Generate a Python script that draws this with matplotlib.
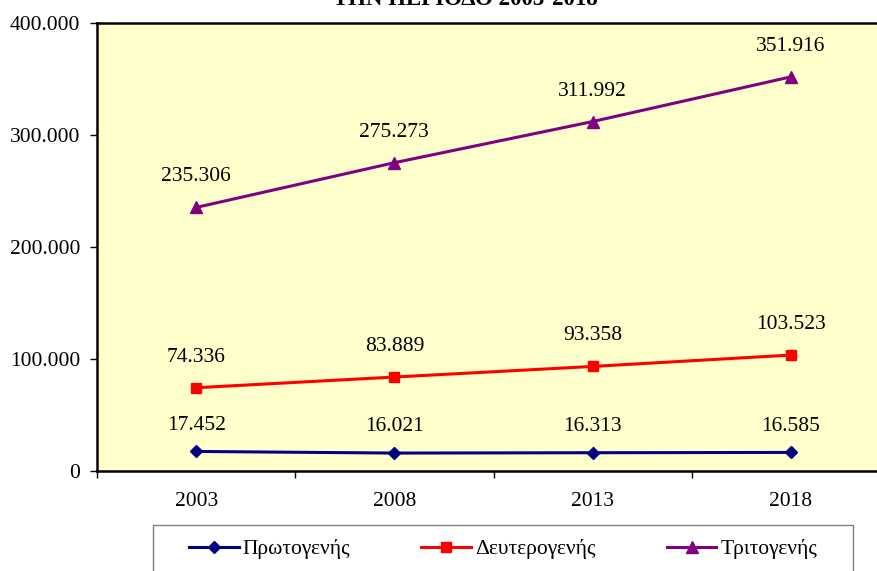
import matplotlib
matplotlib.use("Agg")
import matplotlib.pyplot as plt
from matplotlib.patches import Rectangle
from matplotlib.ticker import FuncFormatter, FixedLocator

years = ["2003", "2008", "2013", "2018"]
series_names = ["Πρωτογενής", "Δευτερογενής", "Τριτογενής"]
primary = [17452, 16021, 16313, 16585]
secondary = [74336, 83889, 93358, 103523]
tertiary = [235306, 275273, 311992, 351916]
title_text = "ΤΗΝ ΠΕΡΙΟΔΟ 2003-2018"

colors = ["#000080", "#FF0000", "#800080"]
markers = ["D", "s", "^"]
msizes = [6.5, 7, 8]
label_offsets = [19, 22, 22]  # points above the marker

plt.rcParams['font.family'] = ['Liberation Serif', 'DejaVu Serif']
FS = 15.5

W, H = 877, 571
fig = plt.figure(figsize=(W / 100, H / 100), dpi=100)
left, top, bottom, right = 97, 23, 471, 890
ax = fig.add_axes([left / W, (H - bottom) / H, (right - left) / W, (bottom - top) / H])
ax.set_facecolor("#FFFFCC")

x = list(range(len(years)))
data = [primary, secondary, tertiary]
handles = []
for vals, name, c, m, ms, off in zip(data, series_names, colors, markers, msizes, label_offsets):
    h, = ax.plot(x, vals, color=c, marker=m, markersize=ms, linewidth=2.2,
                 markeredgecolor=c, markerfacecolor=c, label=name, clip_on=False)
    handles.append(h)
    for xi, v in zip(x, vals):
        ax.annotate(f"{v:,}".replace(",", "."), (xi, v), xytext=(0, off),
                    textcoords="offset points", ha="center", va="center",
                    fontsize=FS, color="black")

ax.set_xlim(-0.5, 3.5)
ax.set_ylim(0, 400000)
ax.yaxis.set_major_locator(FixedLocator([0, 100000, 200000, 300000, 400000]))
ax.yaxis.set_major_formatter(FuncFormatter(lambda v, p: f"{int(v):,}".replace(",", ".")))
ax.tick_params(axis="y", direction="out", length=5, width=1, pad=7, labelsize=FS)

ax.xaxis.set_major_locator(FixedLocator([-0.5, 0.5, 1.5, 2.5, 3.5]))
ax.xaxis.set_major_formatter(FuncFormatter(lambda v, p: ""))
ax.xaxis.set_minor_locator(FixedLocator(x))
ax.set_xticklabels(years, minor=True)
ax.tick_params(axis="x", which="major", direction="out", length=5, width=1)
ax.tick_params(axis="x", which="minor", length=0, pad=15, labelsize=FS)

for s in ["left", "bottom", "top"]:
    ax.spines[s].set_linewidth(1.8)
    ax.spines[s].set_color("black")
ax.spines["right"].set_visible(False)

fig.text(465 / W, 1 - 5 / H, title_text, ha="center", va="baseline",
         fontsize=FS + 1, fontweight="bold")

# legend frame
lx0, ly0, lx1 = 153, 525, 853
fig.patches.append(Rectangle((lx0 / W, -0.05), (lx1 - lx0) / W, (H - ly0) / H + 0.05,
                             transform=fig.transFigure, fill=True, facecolor="white",
                             edgecolor="#808080", linewidth=1.0))
fig.legend(handles=handles, loc="center left", bbox_to_anchor=(189 / W, 1 - 549 / H),
           ncol=3, frameon=False, fontsize=FS, handlelength=2.3, handletextpad=0.2,
           columnspacing=3.3, borderaxespad=0, borderpad=0)

fig.savefig("out.png", dpi=100)
